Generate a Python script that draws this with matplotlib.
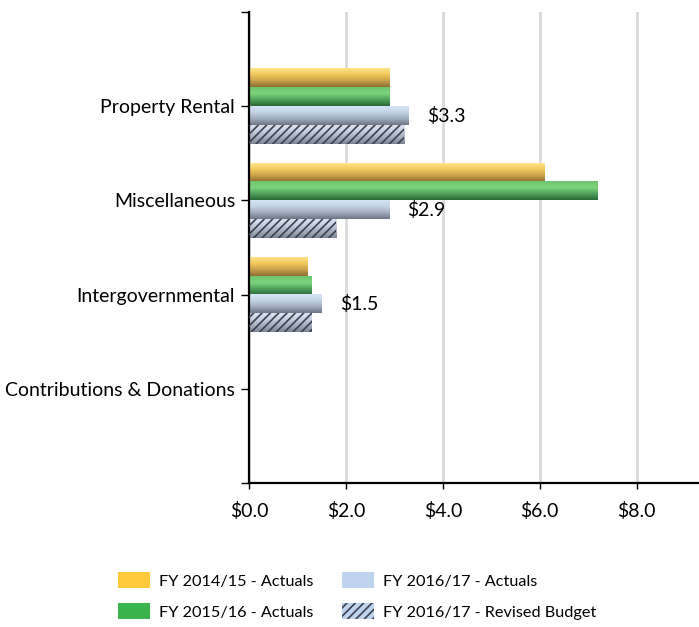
import numpy as np
import matplotlib
matplotlib.use("Agg")
import matplotlib.pyplot as plt
from matplotlib.colors import LinearSegmentedColormap
from matplotlib.patches import Patch

plt.rcParams["font.family"] = ["Lato", "DejaVu Sans"]
plt.rcParams["hatch.linewidth"] = 1.2

categorias = ["Property Rental", "Miscellaneous", "Intergovernmental", "Contributions & Donations"]
series = ["FY 2014/15 - Actuals", "FY 2015/16 - Actuals",
          "FY 2016/17 - Actuals", "FY 2016/17 - Revised Budget"]
fy1415 = [2.9, 6.1, 1.2, 0.0]
fy1516 = [2.9, 7.2, 1.3, 0.0]
fy1617 = [3.3, 2.9, 1.5, 0.0]
fy1617_budget = [3.2, 1.8, 1.3, 0.0]
xticks = [0, 2, 4, 6, 8]

# gradientes (claro em cima -> escuro embaixo)
gradientes = [
    ["#FFE38A", "#F2C85A", "#C9A04A", "#8C6E32"],
    ["#6CC46C", "#7ED47E", "#4FA25A", "#2C6A38"],
    ["#D6E4F8", "#C4D2E8", "#A0ACBE", "#6C7686"],
    ["#DDE4EE", "#C6CEDC", "#A4ACBA", "#7A8494"],
]
cores_legenda = ["#FFC83D", "#3CB44C", "#BDD3EE", "#BDD3EE"]

valores = [fy1415, fy1516, fy1617, fy1617_budget]
n = len(categorias)
altura = 0.2
y = np.arange(n)

fig = plt.figure(figsize=(6.99, 6.27), dpi=100)
ax = fig.add_axes([249 / 699, 1 - 483 / 627, 1 - 249 / 699, (483 - 12) / 627])

grad = np.linspace(0, 1, 64).reshape(-1, 1)
for i, (vals, cols) in enumerate(zip(valores, gradientes)):
    cmap = LinearSegmentedColormap.from_list(f"g{i}", cols)
    offset = (i - 1.5) * altura
    barras = ax.barh(y + offset, vals, altura, color="none", edgecolor="none", zorder=2)
    for barra, v in zip(barras, vals):
        if v == 0:
            continue
        yc = barra.get_y() + altura / 2
        ax.imshow(grad, extent=(0, v, yc + altura / 2, yc - altura / 2),
                  aspect="auto", cmap=cmap, zorder=2, interpolation="bilinear")
    if i == 3:
        ax.barh(y + offset, vals, altura, color="none", edgecolor="#3A4252",
                hatch="////", linewidth=0, zorder=3)

# rotulos da serie FY 2016/17 - Actuals
for yi, v in zip(y, fy1617):
    if v == 0:
        continue
    ax.annotate(f"${v:.1f}", (v, yi + 0.5 * altura), xytext=(13, 0),
                textcoords="offset points", va="center", ha="left", fontsize=14)

ax.set_xlim(0, 450 / 48.45)
ax.set_ylim(4, -1)
ax.set_xticks(xticks)
ax.set_xticklabels([f"${t:.1f}" for t in xticks], fontsize=14)
ax.set_yticks(list(range(-1, 5)))
ax.set_yticklabels([""] + categorias + [""], fontsize=14)
ax.tick_params(axis="y", length=6, width=1, pad=4)
ax.tick_params(axis="x", length=4, width=1, pad=10)
ax.xaxis.grid(True, color="#D9D9D9", linewidth=2)
ax.set_axisbelow(True)
for s in ["top", "right"]:
    ax.spines[s].set_visible(False)
for s in ["left", "bottom"]:
    ax.spines[s].set_linewidth(1.6)

handles = [Patch(facecolor=cores_legenda[0]), Patch(facecolor=cores_legenda[1]),
           Patch(facecolor=cores_legenda[2]),
           Patch(facecolor=cores_legenda[3], edgecolor="#3A4252", hatch="////", linewidth=0)]
fig.legend(handles, series, ncol=2, loc="center", bbox_to_anchor=(357 / 699, 1 - 596 / 627),
           frameon=False, fontsize=11.7, handlelength=2.0, handleheight=1.1,
           handletextpad=0.55, columnspacing=1.75, labelspacing=0.9)

plt.savefig("out.png", dpi=100)
